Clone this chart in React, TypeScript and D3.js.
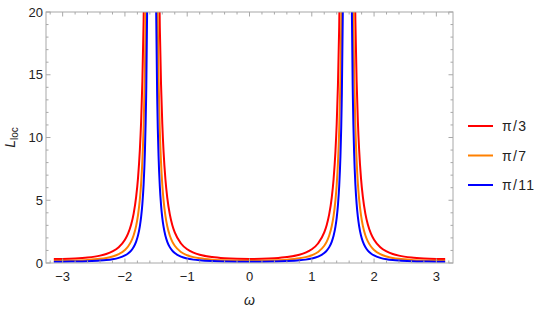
import React, { useEffect, useRef } from 'react'
import * as d3 from 'd3'

// omega samples (denser near the poles at ±π/2)
const omega = [
  -3.1416, -3.0, -2.8, -2.6, -2.4, -2.3, -2.2, -2.1, -2.0, -1.95, -1.9, -1.86, -1.82, -1.79, -1.76,
  -1.74, -1.72, -1.7, -1.68, -1.66, -1.64, -1.62, -1.52, -1.5, -1.48, -1.46, -1.44, -1.42, -1.4,
  -1.38, -1.35, -1.32, -1.28, -1.24, -1.2, -1.1, -1.0, -0.9, -0.8, -0.6, -0.4, -0.2, 0,
  0.2, 0.4, 0.6, 0.8, 0.9, 1.0, 1.1, 1.2, 1.24, 1.28, 1.32, 1.35, 1.38, 1.4, 1.42, 1.44, 1.46,
  1.48, 1.5, 1.52, 1.62, 1.64, 1.66, 1.68, 1.7, 1.72, 1.74, 1.76, 1.79, 1.82, 1.86, 1.9, 1.95,
  2.0, 2.1, 2.2, 2.3, 2.4, 2.6, 2.8, 3.0, 3.1416
]

const lossPi3 = [
  0.32, 0.327, 0.361, 0.436, 0.589, 0.721, 0.924, 1.256, 1.848, 2.335, 3.062, 3.935, 5.261, 6.768, 9.047,
  11.28, 14.48, 19.28, 26.94, 40.3, 66.9, 132, 124, 63.9, 38.9, 26.17, 18.81, 14.18, 11.08,
  8.898, 6.672, 5.195, 3.893, 3.033, 2.437, 1.555, 1.096, 0.828, 0.659, 0.47, 0.377, 0.333, 0.32,
  0.333, 0.377, 0.47, 0.659, 0.828, 1.096, 1.555, 2.437, 3.033, 3.893, 5.195, 6.672, 8.898, 11.08, 14.18, 18.81, 26.17,
  38.9, 63.9, 124, 132, 66.9, 40.3, 26.94, 19.28, 14.48, 11.28, 9.047, 6.768, 5.261, 3.935, 3.062, 2.335,
  1.848, 1.256, 0.924, 0.721, 0.589, 0.436, 0.361, 0.327, 0.32
]

const lossPi7 = [
  0.18, 0.184, 0.203, 0.245, 0.331, 0.406, 0.52, 0.706, 1.039, 1.314, 1.722, 2.213, 2.959, 3.807, 5.089,
  6.347, 8.145, 10.84, 15.15, 22.68, 37.65, 74.4, 69.8, 35.97, 21.89, 14.72, 10.58, 7.976, 6.231,
  5.005, 3.753, 2.922, 2.19, 1.706, 1.371, 0.875, 0.617, 0.466, 0.371, 0.264, 0.212, 0.187, 0.18,
  0.187, 0.212, 0.264, 0.371, 0.466, 0.617, 0.875, 1.371, 1.706, 2.19, 2.922, 3.753, 5.005, 6.231, 7.976, 10.58, 14.72,
  21.89, 35.97, 69.8, 74.4, 37.65, 22.68, 15.15, 10.84, 8.145, 6.347, 5.089, 3.807, 2.959, 2.213, 1.722, 1.314,
  1.039, 0.706, 0.52, 0.406, 0.331, 0.245, 0.203, 0.184, 0.18
]

const lossPi11 = [
  0.104, 0.106, 0.117, 0.142, 0.191, 0.234, 0.3, 0.408, 0.6, 0.759, 0.995, 1.279, 1.71, 2.2, 2.94,
  3.667, 4.706, 6.265, 8.754, 13.11, 21.75, 43.0, 40.3, 20.78, 12.65, 8.506, 6.113, 4.608, 3.6,
  2.892, 2.168, 1.689, 1.265, 0.986, 0.792, 0.506, 0.356, 0.269, 0.214, 0.153, 0.123, 0.108, 0.104,
  0.108, 0.123, 0.153, 0.214, 0.269, 0.356, 0.506, 0.792, 0.986, 1.265, 1.689, 2.168, 2.892, 3.6, 4.608, 6.113, 8.506,
  12.65, 20.78, 40.3, 43.0, 21.75, 13.11, 8.754, 6.265, 4.706, 3.667, 2.94, 2.2, 1.71, 1.279, 0.995, 0.759,
  0.6, 0.408, 0.3, 0.234, 0.191, 0.142, 0.117, 0.106, 0.104
]

const seriesNames = ['π/3', 'π/7', 'π/11']
const seriesColors = ['#ff0000', '#ff8000', '#0000ff']
const xTicks = [-3, -2, -1, 0, 1, 2, 3]
const yTicks = [0, 5, 10, 15, 20]

export default function App() {
  const ref = useRef<SVGSVGElement>(null)

  useEffect(() => {
    const svg = d3.select(ref.current)
    svg.selectAll('*').remove()

    const left = 46, right = 453, top = 12, bottom = 263
    const pad = 0.02 * 2 * Math.PI
    const x = d3.scaleLinear().domain([-Math.PI - pad, Math.PI + pad]).range([left, right])
    const y = d3.scaleLinear().domain([0, 20]).range([bottom, top])
    const frameColor = '#a8a8a8'
    const font = '"Liberation Sans", Arial, sans-serif'

    // minor ticks
    const xMinor = d3.range(-16, 17).map(i => i / 5).filter(v => Math.abs(v - Math.round(v)) > 1e-6)
    const yMinor = d3.range(1, 20).filter(v => v % 5 !== 0)

    const g = svg.append('g')

    // curves, clipped to the frame
    svg.append('defs').append('clipPath').attr('id', 'plotclip')
      .append('rect').attr('x', left).attr('y', top).attr('width', right - left).attr('height', bottom - top)

    const series = [lossPi3, lossPi7, lossPi11]
    const line = d3.line<number>()
      .x((d, i) => x(omega[i]))
      .y(d => y(d))
      .curve(d3.curveMonotoneX)

    g.append('g').attr('clip-path', 'url(#plotclip)')
      .selectAll('path').data(series).join('path')
      .attr('d', d => line(d))
      .attr('fill', 'none')
      .attr('stroke', (d, i) => seriesColors[i])
      .attr('stroke-width', 2)

    // frame
    g.append('rect')
      .attr('x', left).attr('y', top).attr('width', right - left).attr('height', bottom - top)
      .attr('fill', 'none').attr('stroke', frameColor).attr('stroke-width', 1)

    const tickG = g.append('g').attr('stroke', frameColor).attr('stroke-width', 1)
    const addX = (vals: number[], len: number) => {
      tickG.selectAll(null).data(vals).join('line')
        .attr('x1', d => x(d)).attr('x2', d => x(d)).attr('y1', bottom).attr('y2', bottom - len)
      tickG.selectAll(null).data(vals).join('line')
        .attr('x1', d => x(d)).attr('x2', d => x(d)).attr('y1', top).attr('y2', top + len)
    }
    const addY = (vals: number[], len: number) => {
      tickG.selectAll(null).data(vals).join('line')
        .attr('y1', d => y(d)).attr('y2', d => y(d)).attr('x1', left).attr('x2', left + len)
      tickG.selectAll(null).data(vals).join('line')
        .attr('y1', d => y(d)).attr('y2', d => y(d)).attr('x1', right).attr('x2', right - len)
    }
    addX(xTicks, 4.5)
    addX(xMinor, 2.5)
    addY(yTicks, 4.5)
    addY(yMinor, 2.5)

    // tick labels
    g.selectAll('.xlab').data(xTicks).join('text').attr('class', 'xlab')
      .attr('x', d => x(d)).attr('y', bottom + 18)
      .attr('text-anchor', 'middle')
      .style('font-family', font).style('font-size', '13px').style('fill', '#222')
      .text(d => (d < 0 ? '\u2212' + Math.abs(d) : String(d)))

    g.selectAll('.ylab').data(yTicks).join('text').attr('class', 'ylab')
      .attr('x', left - 3).attr('y', d => y(d) + 4.5)
      .attr('text-anchor', 'end')
      .style('font-family', font).style('font-size', '13px').style('fill', '#222')
      .text(d => String(d))

    // axis titles
    g.append('text')
      .attr('x', (left + right) / 2).attr('y', 305)
      .attr('text-anchor', 'middle')
      .style('font-family', font).style('font-size', '14px').style('font-style', 'italic').style('fill', '#222')
      .text('ω')

    const yt = g.append('text')
      .attr('transform', `translate(15, ${(top + bottom) / 2}) rotate(-90)`)
      .attr('text-anchor', 'middle')
      .style('font-family', font).style('font-size', '14px').style('fill', '#222')
    yt.append('tspan').style('font-style', 'italic').text('L')
    yt.append('tspan').attr('dy', 3).style('font-size', '10px').text('loc')

    // legend
    const legendY = [126, 155.5, 185]
    const lg = g.append('g')
    lg.selectAll('line').data(seriesNames).join('line')
      .attr('x1', 468).attr('x2', 493)
      .attr('y1', (d, i) => legendY[i]).attr('y2', (d, i) => legendY[i])
      .attr('stroke', (d, i) => seriesColors[i]).attr('stroke-width', 2)
    lg.selectAll('text').data(seriesNames).join('text')
      .attr('x', 502).attr('y', (d, i) => legendY[i] + 5)
      .style('font-family', font).style('font-size', '14px').style('letter-spacing', '1.3px').style('fill', '#222')
      .text(d => d)
  }, [])

  return <svg ref={ref} width={545} height={312} style={{ position: 'absolute', left: 0, top: 0, background: '#fff' }} />
}
